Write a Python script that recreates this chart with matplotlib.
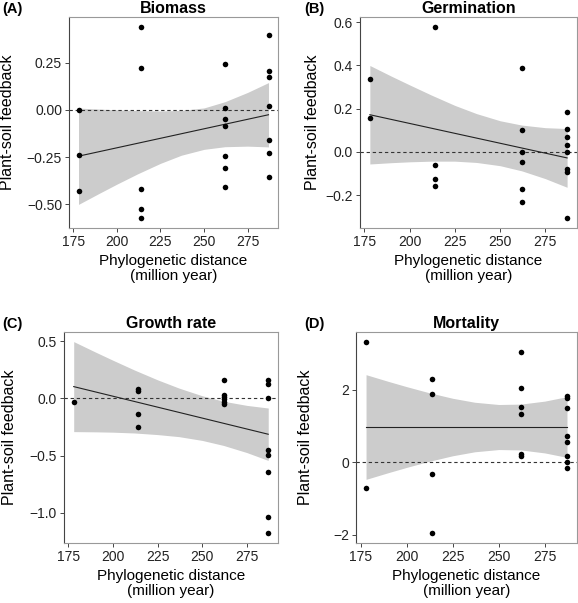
import matplotlib.pyplot as plt
import numpy as np

plt.rcParams['font.family'] = ['Liberation Sans', 'DejaVu Sans']

# x positions of the species pairs (million years)
x_a = [178, 178, 178, 214, 214, 214, 214, 214,
       262, 262, 262, 262, 262, 262, 262,
       287, 287, 287, 287, 287, 287, 287]
y_a = [0.0, -0.24, -0.43, 0.44, 0.22, -0.42, -0.526, -0.574,
       0.24, 0.012, -0.047, -0.088, -0.246, -0.31, -0.41,
       0.395, 0.207, 0.175, 0.021, -0.161, -0.23, -0.354]

x_b = [178, 178, 214, 214, 214, 214,
       262, 262, 262, 262, 262, 262,
       287, 287, 287, 287, 287, 287, 287, 287]
y_b = [0.338, 0.157, 0.58, -0.063, -0.125, -0.158,
       0.388, 0.102, 0.0, -0.048, -0.174, -0.232,
       0.185, 0.106, 0.069, 0.032, 0.0, -0.078, -0.091, -0.308]

x_c = [178, 214, 214, 214, 214,
       262, 262, 262, 262, 262, 262,
       287, 287, 287, 287, 287, 287, 287, 287]
y_c = [-0.029, 0.079, 0.06, -0.134, -0.247,
       0.16, 0.029, 0.01, -0.01, -0.03, -0.05,
       0.16, 0.122, 0.006, -0.451, -0.495, -0.643, -1.04, -1.18]

x_d = [178, 178, 214, 214, 214, 214,
       262, 262, 262, 262, 262, 262,
       287, 287, 287, 287, 287, 287, 287, 287]
y_d = [3.338, -0.708, 2.317, 1.894, -0.313, -1.968,
       3.044, 2.051, 1.517, 1.343, 0.23, 0.16,
       1.82, 1.775, 1.508, 0.717, 0.552, 0.184, 0.0, -0.156]

# fitted line end points and confidence band
band_x = [178, 190, 200, 212, 225, 237, 250, 262, 275, 287]
fit_a = [-0.245, -0.026]
lo_a = [-0.500, -0.441, -0.393, -0.338, -0.283, -0.240, -0.209, -0.195, -0.192, -0.196]
hi_a = [0.009, 0.004, 0.0, -0.004, -0.006, -0.003, 0.01, 0.043, 0.092, 0.144]
fit_b = [0.172, -0.028]
lo_b = [-0.056, -0.050, -0.046, -0.043, -0.043, -0.049, -0.064, -0.088, -0.124, -0.164]
hi_b = [0.400, 0.350, 0.310, 0.263, 0.215, 0.177, 0.144, 0.124, 0.112, 0.108]
fit_c = [0.102, -0.314]
lo_c = [-0.291, -0.293, -0.296, -0.303, -0.317, -0.335, -0.368, -0.412, -0.474, -0.543]
hi_c = [0.495, 0.405, 0.332, 0.247, 0.161, 0.089, 0.022, -0.026, -0.062, -0.085]
fit_d = [0.975, 0.975]
lo_d = [-0.473, -0.289, -0.142, 0.023, 0.180, 0.290, 0.352, 0.341, 0.258, 0.135]
hi_d = [2.423, 2.239, 2.092, 1.927, 1.770, 1.660, 1.598, 1.609, 1.692, 1.815]

panels = [
    ('(A)', 'Biomass', x_a, y_a, fit_a, lo_a, hi_a,
     [0.25, 0.0, -0.25, -0.5], ['0.25', '0.00', '\u22120.25', '\u22120.50'],
     [0.1194, 0.6219, 0.3616, 0.3499], -0.258, 0.004),
    ('(B)', 'Germination', x_b, y_b, fit_b, lo_b, hi_b,
     [0.6, 0.4, 0.2, 0.0, -0.2], ['0.6', '0.4', '0.2', '0.0', '\u22120.2'],
     [0.6228, 0.6219, 0.3754, 0.3499], -0.184, 0.527),
    ('(C)', 'Growth rate', x_c, y_c, fit_c, lo_c, hi_c,
     [0.5, 0.0, -0.5, -1.0], ['0.5', '0.0', '\u22120.5', '\u22121.0'],
     [0.1107, 0.0995, 0.3702, 0.3499], -0.22, 0.004),
    ('(D)', 'Mortality', x_d, y_d, fit_d, lo_d, hi_d,
     [2, 0, -2], ['2', '0', '\u22122'],
     [0.6159, 0.0995, 0.3824, 0.3499], -0.195, 0.527),
]

fig = plt.figure(figsize=(5.78, 6.03), dpi=100)

for tag, title, xs, ys, fit, lo, hi, yt, ytl, rect, ylab_x, tag_x in panels:
    ax = fig.add_axes(rect)
    ax.fill_between(band_x, lo, hi, color='#cccccc', lw=0, zorder=1)
    ax.axhline(0, color='#333333', lw=0.8, ls=(0, (3, 2.5)), zorder=2)
    ax.plot([band_x[0], band_x[-1]], fit, color='#222222', lw=0.8, zorder=3)
    ax.scatter(xs, ys, s=16, color='black', zorder=4, linewidths=0)

    ymin = min(min(ys), min(lo))
    ymax = max(max(ys), max(hi))
    pad = (ymax - ymin) * 0.05
    ax.set_ylim(ymin - pad, ymax + pad)
    ax.set_xlim(172.55, 292.45)
    ax.set_xticks([175, 200, 225, 250, 275])
    ax.set_yticks(yt)
    ax.set_yticklabels(ytl)
    ax.tick_params(labelsize=10, length=3, width=0.7, color='#444444',
                   labelcolor='#222222', pad=2)

    for side in ['top', 'right', 'bottom']:
        ax.spines[side].set_color('#999999')
        ax.spines[side].set_linewidth(0.8)
    ax.spines['left'].set_color('#444444')
    ax.spines['left'].set_linewidth(0.8)

    ax.set_title(title, fontsize=11.5, fontweight='bold', pad=3)
    ax.set_xlabel('Phylogenetic distance\n(million year)', fontsize=11,
                  linespacing=1.1)
    ax.xaxis.set_label_coords(0.5, -0.125)
    ax.xaxis.label.set_va('top')
    ax.set_ylabel('Plant-soil feedback', fontsize=11.5)
    ax.yaxis.set_label_coords(ylab_x, 0.5)

    bbox = ax.get_position()
    fig.text(tag_x, bbox.y1 + 0.013, tag, fontsize=10.5, fontweight='bold',
             va='center', ha='left')

fig.savefig('out.png', dpi=100)
